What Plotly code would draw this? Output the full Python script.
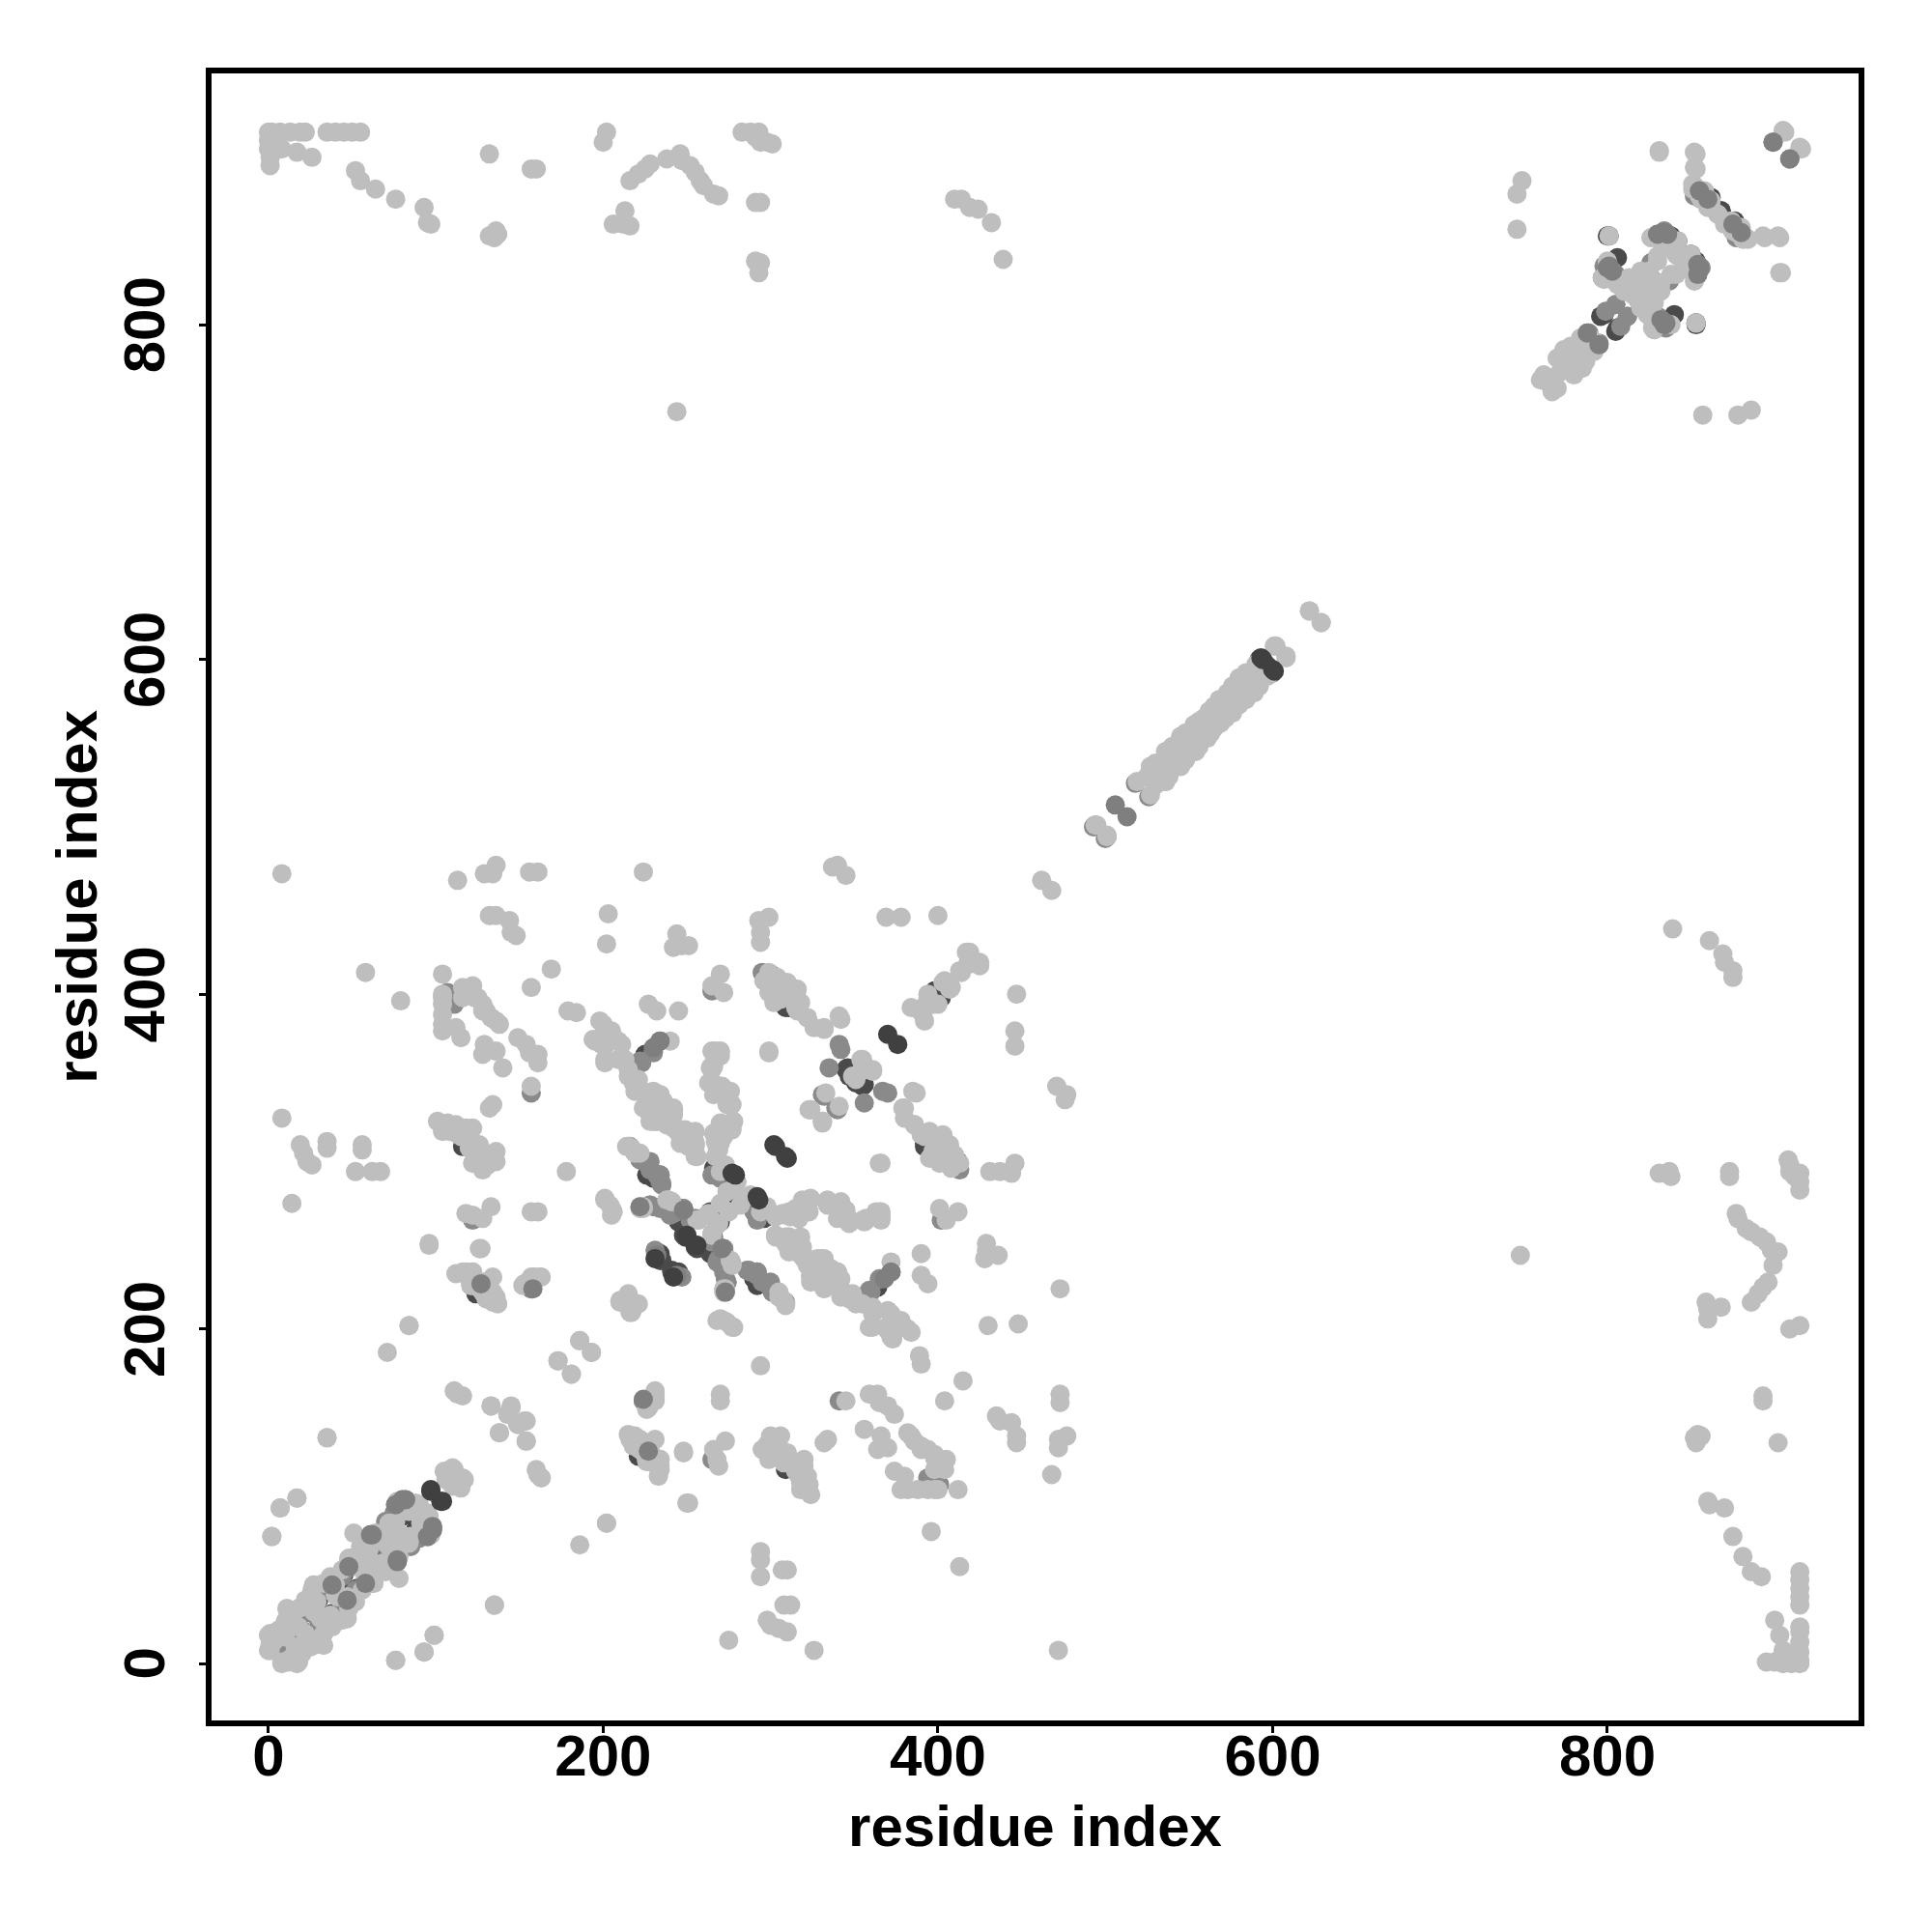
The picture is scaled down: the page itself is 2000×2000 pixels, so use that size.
import plotly.graph_objects as go

tick_values = [0, 200, 400, 600, 800]
axis_title = "residue index"

# Contact pairs (i, j); the map is symmetric, so each pair appears as (i,j) and (j,i).
under_dark_i = [2,8,14,9,16,22,32,49,45,64,68,80,88,5,13,21,30,40,55,70,75,85,
 124,116,225,222,248,255,241,276,292,300,300,309,345,355,800,806,838,850,853,798,805,827,862,868,872,592,596,599,398,264,234,226,226,275,296,290,248,234,241,264,394,399,311,351,356]
under_dark_j = [13,15,11,22,22,32,25,43,53,72,66,88,80,8,20,30,38,50,62,77,82,90,
 221,309,364,359,256,249,235,293,278,405,412,392,355,347,853,840,853,842,830,806,796,837,876,868,862,600,597,594,402,270,245,299,292,280,266,230,265,242,234,245,309,303,392,347,346]
under_mid_i = [5,11,20,26,38,48,61,77,76,80,98,9,17,25,35,44,50,60,65,70,75,80,
 121,127,157,226,234,234,107,111,157,122,265,295,331,341,367,356,300,216,231,228,243,248,265,272,272,287,292,300,360,366,800,805,830,834,855,854,837,805,812,808,788,795,853,875,880,801,853,157,226,
 222,228,234,228,240,248,266,272,273,269,286,292,299,290,265,332,372,365,359,493,501,518,852,856,860,838,840,826,832,835,797,800,803]
under_mid_j = [11,18,20,30,47,58,77,62,95,98,82,18,25,33,44,52,58,67,72,85,90,95,
 226,227,224,299,292,288,401,394,341,265,402,413,340,370,342,335,405,309,247,274,271,272,252,247,234,235,232,228,222,230,834,830,854,856,834,836,826,812,805,799,795,789,801,860,855,853,801,224,157,
 301,295,290,274,268,271,255,248,230,242,235,234,226,270,292,339,234,230,223,500,494,526,877,875,872,848,845,828,801,798,828,832,827]
light_i = [0,0,8,12,18,11,27,16,22,33,31,35,27,47,41,49,63,55,78,70,76,72,59,49,61,82,97,91,88,110,105,116,110,2,7,17,35,71,84,76,93,99,135,173,181,186,193,202,161,160,163,133,145,138,143,154,153,143,112,116,118,122,121,134,136,134,153,159,163,211,216,231,227,215,220,226,233,248,251,
 2,7,13,19,22,35,40,45,50,55,2,2,1,8,17,26,52,55,64,76,93,95,97,132,132,136,137,135,157,160,200,202,206,213,212,216,216,221,225,228,238,246,247,252,255,258,260,266,269,283,288,293,291,294,298,301,291,294,291,294,293,410,414,419,424,432,439,244,
 749,746,746,831,852,852,851,905,915,903,902,893,855,862,883,841,850,842,830,838,798,813,821,827,821,828,825,828,801,784,774,782,776,788,780,778,787,762,769,767,
 8,8,14,19,21,23,26,35,35,56,56,52,62,67,58,79,96,127,113,134,136,129,156,161,224,340,345,337,132,136,144,148,145,203,202,244,247,242,251,299,293,294,294,104,169,157,116,122,104,104,112,115,125,130,136,128,129,136,128,140,149,154,161,161,156,157,134,132,101,107,104,112,122,121,128,136,122,128,133,178,133,118,122,128,157,161,118,122,126,132,136,158,162,152,157,
 179,184,227,232,245,198,205,194,199,201,211,213,221,219,230,228,232,242,242,249,254,256,246,236,270,265,272,270,270,264,263,267,266,274,276,277,270,267,299,299,309,316,316,322,326,332,341,299,354,359,351,323,331,365,214,219,272,280,274,284,298,294,307,322,315,334,341,346,355,365,201,205,205,222,239,262,256,268,276,309,317,324,336,342,324,272,210,305,308,
 369,378,400,384,391,394,400,403,408,413,419,419,425,462,495,501,601,608,622,629,592,598,
 519,527,536,545,553,559,565,573,580,527,530,540,548,556,562,568,576,584,590,525,531,535,541,545,551,555,560,565,570,575,581,586,
 200,215,240,255,275,
 3,6,10,14,18,22,26,29,33,37,40,44,48,52,55,60,64,68,72,76,80,84,90,0,0,0,1,4,
 209,215,221,228,234,228,242,242,249,255,255,224,245,218,232,238,251,
 265,266,271,276,276,270,266,267,309,320,334,344,357,365,315,303,324,340,
 303,311,319,328,324,340,342,351,361,369,372,382,359,334,332,
 215,238,222,263,257,269,276,273,274,270,278,212,217,
 385,379,392,403,411,355,361,331,341,322,
 296,304,312,318,304,310,302,306,118,123,128,133,138,116,104,104,104,104,108,115,120,125,131,112,118,126,130,136,120,125,128,130,134,128,132,218,222,224,228,230,
 800,803,806,810,815,820,824,832,836,840,845,850,852,856,858,862,866,870,878,881,770,775,780,785,790,765,772]
light_j = [17,8,1,1,1,22,11,10,18,11,27,22,47,27,40,36,48,57,51,79,80,70,68,63,61,76,77,84,96,117,115,111,106,76,93,99,135,186,202,2,7,17,35,181,173,193,186,84,113,116,111,154,154,138,149,133,145,149,233,234,233,234,226,222,216,231,227,230,231,217,210,159,153,137,134,126,120,126,96,
 915,915,915,915,915,915,915,915,915,915,908,902,895,905,903,900,892,886,881,875,870,861,860,902,853,856,854,852,893,893,909,915,860,868,860,859,886,890,893,896,899,902,898,895,891,886,883,878,877,915,915,915,912,909,909,908,873,873,838,837,831,875,875,870,869,861,839,748,
 886,878,857,904,903,894,884,916,906,831,853,853,877,874,852,850,842,841,841,830,827,825,826,822,815,813,809,797,853,792,784,774,780,784,786,772,778,770,762,760,
 472,326,275,310,305,300,298,312,308,310,307,294,294,294,413,396,250,248,468,472,477,472,473,473,473,477,471,476,447,447,444,435,437,448,430,436,429,428,429,446,444,431,437,412,415,404,404,405,394,382,380,374,398,390,384,394,370,366,364,356,374,370,364,359,365,345,334,332,324,323,318,317,320,311,306,306,299,295,303,294,273,269,268,266,270,270,234,234,228,224,219,231,231,226,231,
 390,389,394,390,390,384,378,373,370,361,370,361,349,342,342,332,324,332,320,319,311,303,311,336,412,405,401,366,363,356,347,342,340,334,323,319,311,366,413,401,403,403,390,386,380,380,387,366,361,355,349,331,324,299,309,305,298,288,282,278,273,270,269,277,272,277,272,267,265,269,277,272,268,273,277,268,265,263,241,255,246,238,234,224,228,224,217,222,217,
 446,446,447,392,388,397,394,407,404,414,425,418,417,468,501,494,608,602,629,622,597,591,
 527,536,545,554,561,565,572,580,589,536,538,548,556,563,569,576,584,592,597,530,536,540,546,550,556,560,565,569,574,579,585,590,
 376,221,372,318,270,
 13,20,25,28,33,38,44,37,48,52,47,56,62,60,70,68,78,75,84,85,92,96,95,905,910,915,900,912,
 372,355,343,338,340,328,330,320,318,311,303,332,317,347,324,322,309,
 366,357,345,342,334,323,317,312,268,276,276,268,265,270,270,267,278,272,
 256,255,247,242,230,234,222,215,209,201,195,200,201,234,226,
 309,277,272,268,265,263,241,224,204,206,201,217,211,
 342,332,315,315,299,357,355,324,333,386,
 408,400,398,395,410,407,395,397,402,398,390,386,382,398,388,398,378,400,318,315,308,300,298,322,320,310,304,300,230,225,222,218,216,228,220,132,128,130,124,122,
 838,832,824,820,818,832,818,825,848,846,840,832,826,875,880,870,866,860,857,851,780,782,776,774,792,765,772]
top_mid_i = [506,234,230,158,127,248,222,244,80,76,61,82,62,38,48,834,836,801,803,830,800,788,860,855,899,909]
top_mid_j = [513,372,368,224,227,271,273,232,98,95,77,98,77,47,58,855,854,835,832,854,834,795,875,880,909,899]
top_dark_i = [97,103,370,302,309,277,292,250,255,231,593,600]
top_dark_j = [104,97,376,310,303,293,279,256,250,242,601,594]

groups = [
    (under_dark_i, under_dark_j, "#4a4a4a"),
    (under_mid_i, under_mid_j, "#8a8a8a"),
    (light_i, light_j, "#bebebe"),
    (top_mid_i, top_mid_j, "#7f7f7f"),
    (top_dark_i, top_dark_j, "#404040"),
]

fig = go.Figure()
for i_vals, j_vals, colour in groups:
    fig.add_trace(go.Scatter(
        x=list(i_vals) + list(j_vals),
        y=list(j_vals) + list(i_vals),
        mode="markers",
        marker=dict(size=20, color=colour, line=dict(width=0)),
        showlegend=False, cliponaxis=True,
    ))

bold = dict(family="Liberation Sans, Arial, sans-serif", size=60, color="#000000", weight="bold")
axis = dict(tickmode="array", tickvals=tick_values,
            ticks="outside", ticklen=7, tickwidth=3, tickcolor="#000000",
            showline=True, mirror=True, linewidth=5.5, linecolor="#000000",
            showgrid=False, zeroline=False, tickfont=bold)
margin_l, plot_w = 210.75, 1705.5
fig.update_layout(
    width=2000, height=2000, autosize=False,
    margin=dict(l=margin_l, r=83.75, t=67.5, b=227.3, pad=0),
    paper_bgcolor="#ffffff", plot_bgcolor="#ffffff",
    xaxis=dict(axis, range=[-34, 950.1], ticklabelstandoff=-28,
               title=dict(text=axis_title, font=bold, standoff=21)),
    yaxis=dict(axis, range=[-33.9, 950.1], showticklabels=False),
    annotations=[
        dict(text=str(v), xref="paper", yref="y", x=(141 - margin_l) / plot_w, y=v,
             xanchor="center", yanchor="middle", textangle=-90, showarrow=False, font=bold)
        for v in tick_values
    ] + [
        dict(text=axis_title, xref="paper", yref="paper", x=(71 - margin_l) / plot_w, y=0.5,
             xanchor="center", yanchor="middle", textangle=-90, showarrow=False, font=bold)
    ],
)
fig.write_html("out.html")
